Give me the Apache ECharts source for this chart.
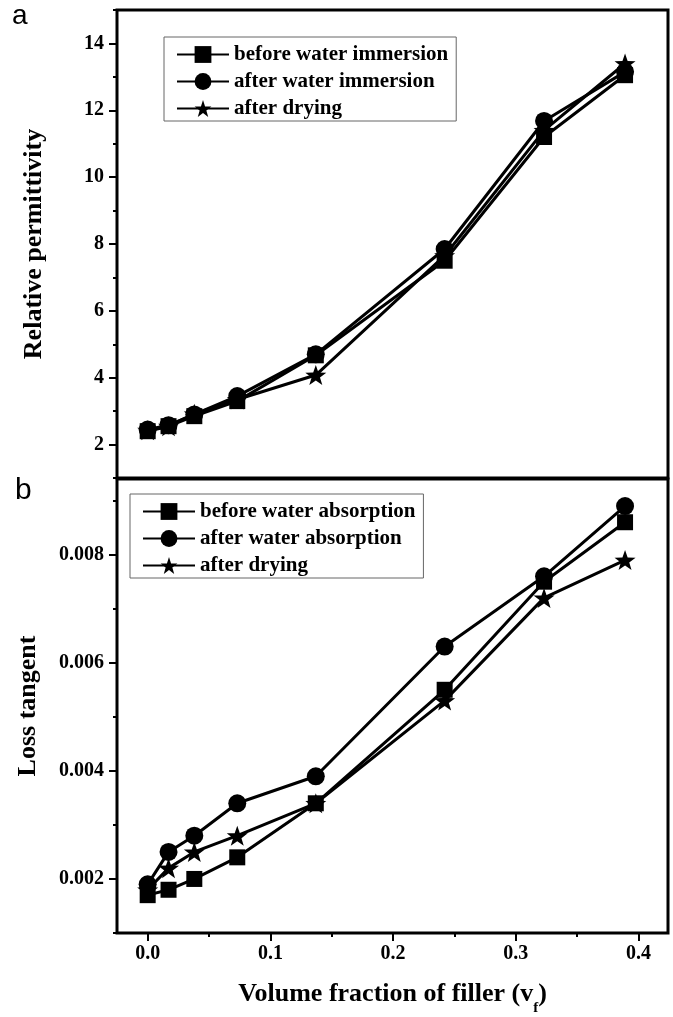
<!DOCTYPE html>
<html><head><meta charset="utf-8">
<script src="https://cdn.jsdelivr.net/npm/echarts@6/dist/echarts.min.js"></script>
<style>html,body{margin:0;padding:0;background:#fff}#c{width:673px;height:1017px}</style>
</head><body><div id="c"></div>
<script>
const xFraction = [0, 0.017, 0.038, 0.073, 0.137, 0.242, 0.323, 0.389];
const permBefore = [2.4, 2.55, 2.85, 3.3, 4.67, 7.5, 11.2, 13.05];
const permAfter = [2.45, 2.58, 2.9, 3.45, 4.7, 7.85, 11.68, 13.15];
const permDried = [2.43, 2.55, 2.92, 3.35, 4.08, 7.65, 11.4, 13.4];
const lossBefore = [0.0017, 0.0018, 0.0020, 0.0024, 0.0034, 0.0055, 0.0075, 0.0086];
const lossAfter = [0.0019, 0.0025, 0.0028, 0.0034, 0.0039, 0.0063, 0.0076, 0.0089];
const lossDried = [0.0018, 0.0022, 0.0025, 0.0028, 0.0034, 0.0053, 0.0072, 0.0079];
const legendTop = ['before water immersion', 'after water immersion', 'after drying'];
const legendBottom = ['before water absorption', 'after water absorption', 'after drying'];
const xMajorTicks = [0, 0.1, 0.2, 0.3, 0.4];
const xMinorTicks = [0.05, 0.15, 0.25, 0.35];
const permMajorTicks = [2, 4, 6, 8, 10, 12, 14];
const permMinorTicks = [1, 3, 5, 7, 9, 11, 13, 15];
const lossMajorTicks = [0.002, 0.004, 0.006, 0.008];
const lossMinorTicks = [0.001, 0.003, 0.005, 0.007, 0.009];

const SERIF = '"Liberation Serif", "Times New Roman", serif';
const STAR = 'path://M50,0L61.76,33.82L97.55,34.55L69.02,56.18L79.39,90.45L50,70L20.61,90.45L30.98,56.18L2.45,34.55L38.24,33.82Z';
const pair = (xs, ys) => xs.map((x, i) => [x, ys[i]]);
const tickLabel = {fontFamily: SERIF, fontWeight: 'bold', fontSize: 20, color: '#000'};
const noZero = {show: false, onZero: false};

function mkSeries(name, data, xi, yi, symbol, size) {
  return {
    type: 'line', name, data, xAxisIndex: xi, yAxisIndex: yi,
    symbol, symbolSize: size, showSymbol: true,
    lineStyle: {color: '#000', width: 3},
    itemStyle: {color: '#000'},
    emphasis: {disabled: true}, animation: false, clip: false
  };
}

const legendCommon = {
  orient: 'vertical', itemWidth: 52, itemHeight: 21, itemGap: 6,
  borderColor: '#666', borderWidth: 1, backgroundColor: '#fff',
  textStyle: {fontFamily: SERIF, fontWeight: 'bold', fontSize: 21, color: '#000'},
  selectedMode: false, inactiveColor: '#000'
};

const chart = echarts.init(document.getElementById('c'), null, {renderer: 'canvas'});
chart.setOption({
  animation: false,
  backgroundColor: '#fff',
  grid: [
    {left: 117, right: 5, top: 10, height: 468, show: true, borderColor: '#000', borderWidth: 3},
    {left: 117, right: 5, top: 479, height: 464, show: true, borderColor: '#000', borderWidth: 3}
  ],
  legend: [
    Object.assign({}, legendCommon, {data: legendTop, left: 164, top: 37, padding: [7, 8, 2, 12]}),
    Object.assign({}, legendCommon, {data: legendBottom, left: 130, top: 494, padding: [7, 8, 2, 12]})
  ],
  xAxis: [
    {type: 'value', gridIndex: 0, position: 'bottom', min: -0.025, max: 0.424,
     axisLine: noZero, axisTick: {show: false}, axisLabel: {show: false}, splitLine: {show: false}},
    {type: 'value', gridIndex: 1, position: 'bottom', min: -0.025, max: 0.424,
     axisLine: noZero, splitLine: {show: false},
     axisTick: {show: true, customValues: xMajorTicks, length: 8, lineStyle: {color: '#000', width: 2}},
     axisLabel: Object.assign({customValues: xMajorTicks, margin: 11, formatter: v => v.toFixed(1)}, tickLabel),
     name: '{t|Volume fraction of filler (v}{s|f}{t|)}', nameLocation: 'middle', nameGap: 48,
     nameTextStyle: {rich: {
       t: {fontFamily: SERIF, fontWeight: 'bold', fontSize: 26, color: '#000'},
       s: {fontFamily: SERIF, fontWeight: 'bold', fontSize: 15, color: '#000', verticalAlign: 'bottom', padding: [0, 0, -9, 0]}
     }}},
    {type: 'value', gridIndex: 1, position: 'bottom', min: -0.025, max: 0.424,
     axisLine: noZero, splitLine: {show: false}, axisLabel: {show: false},
     axisTick: {show: true, customValues: xMinorTicks, length: 4, lineStyle: {color: '#000', width: 2}}}
  ],
  yAxis: [
    {type: 'value', gridIndex: 0, position: 'left', min: 1, max: 15,
     axisLine: noZero, splitLine: {show: false},
     axisTick: {show: true, customValues: permMajorTicks, length: 8, lineStyle: {color: '#000', width: 2}},
     axisLabel: Object.assign({customValues: permMajorTicks, margin: 13}, tickLabel),
     name: 'Relative permittivity', nameLocation: 'middle', nameGap: 70,
     nameTextStyle: {fontFamily: SERIF, fontWeight: 'bold', fontSize: 26, color: '#000'}},
    {type: 'value', gridIndex: 0, position: 'left', min: 1, max: 15,
     axisLine: noZero, splitLine: {show: false}, axisLabel: {show: false},
     axisTick: {show: true, customValues: permMinorTicks, length: 4, lineStyle: {color: '#000', width: 2}}},
    {type: 'value', gridIndex: 1, position: 'left', min: 0.001, max: 0.0094,
     axisLine: noZero, splitLine: {show: false},
     axisTick: {show: true, customValues: lossMajorTicks, length: 8, lineStyle: {color: '#000', width: 2}},
     axisLabel: Object.assign({customValues: lossMajorTicks, margin: 13, formatter: v => v.toFixed(3)}, tickLabel),
     name: 'Loss tangent', nameLocation: 'middle', nameGap: 76,
     nameTextStyle: {fontFamily: SERIF, fontWeight: 'bold', fontSize: 26, color: '#000'}},
    {type: 'value', gridIndex: 1, position: 'left', min: 0.001, max: 0.0094,
     axisLine: noZero, splitLine: {show: false}, axisLabel: {show: false},
     axisTick: {show: true, customValues: lossMinorTicks, length: 4, lineStyle: {color: '#000', width: 2}}}
  ],
  graphic: [
    {type: 'text', left: 12, top: 2, style: {text: 'a', font: '28px "Liberation Sans", Arial, sans-serif', fill: '#000'}},
    {type: 'text', left: 15, top: 476, style: {text: 'b', font: '30px "Liberation Sans", Arial, sans-serif', fill: '#000'}}
  ],
  series: [
    mkSeries(legendTop[0], pair(xFraction, permBefore), 0, 0, 'rect', 16),
    mkSeries(legendTop[1], pair(xFraction, permAfter), 0, 0, 'circle', 18),
    mkSeries(legendTop[2], pair(xFraction, permDried), 0, 0, STAR, [21, 20]),
    mkSeries(legendBottom[0], pair(xFraction, lossBefore), 1, 2, 'rect', 16),
    mkSeries(legendBottom[1], pair(xFraction, lossAfter), 1, 2, 'circle', 18),
    mkSeries(legendBottom[2], pair(xFraction, lossDried), 1, 2, STAR, [21, 20])
  ]
});
</script></body></html>
